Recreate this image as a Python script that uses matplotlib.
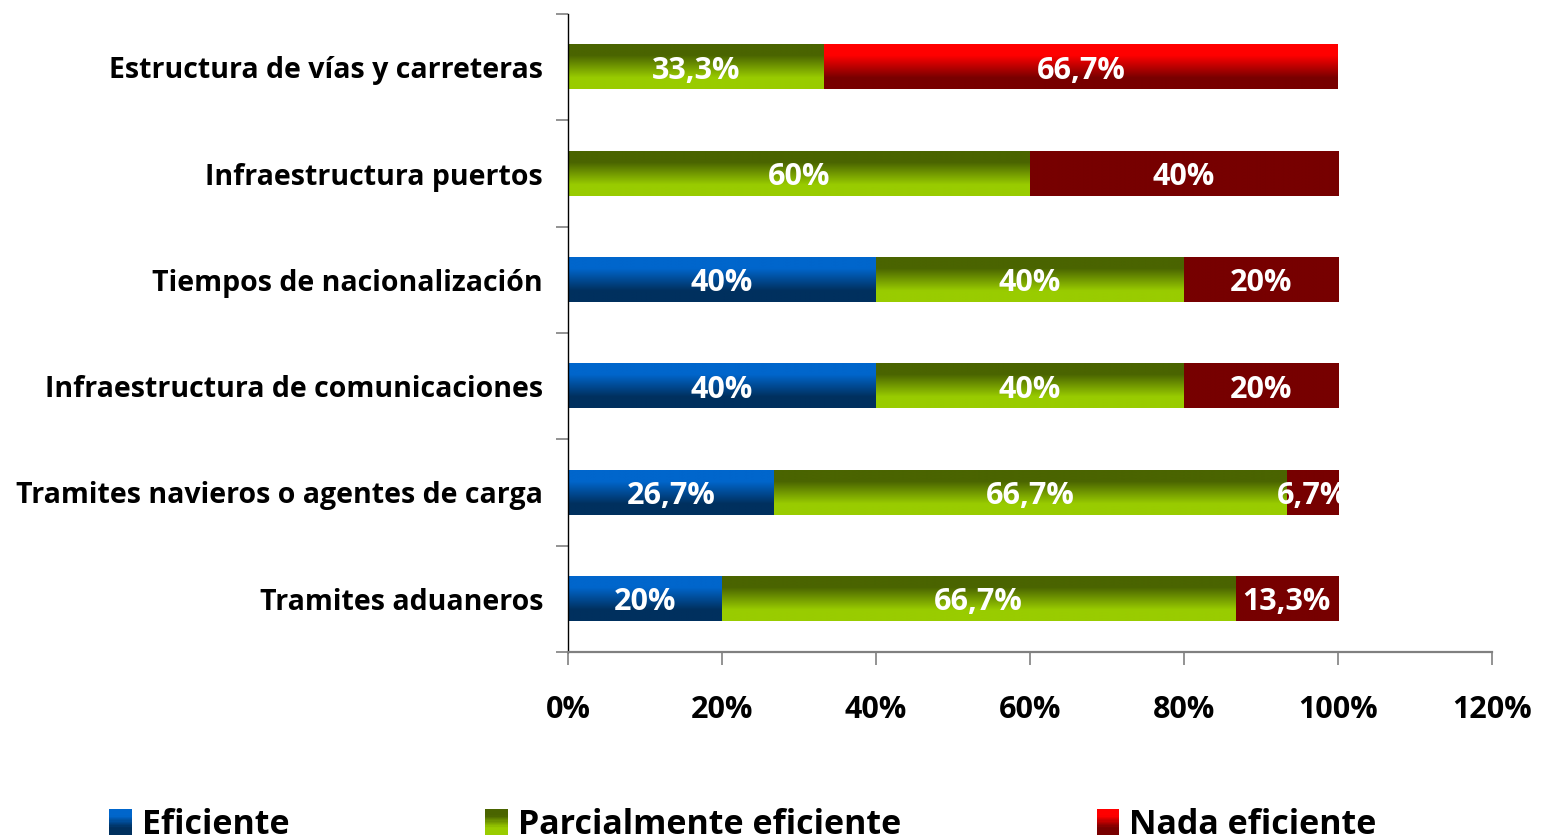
import numpy as np
import matplotlib
matplotlib.use("Agg")
import matplotlib.pyplot as plt
from matplotlib.colors import to_rgb
from matplotlib.patches import Rectangle
from matplotlib.legend_handler import HandlerBase

plt.rcParams['font.family'] = ['Open Sans', 'DejaVu Sans']

# ---- data (bottom to top) ----
categories = ["Tramites aduaneros",
              "Tramites navieros o agentes de carga",
              "Infraestructura de comunicaciones",
              "Tiempos de nacionalización",
              "Infraestructura puertos",
              "Estructura de vías y carreteras"]
eficiente = [20.0, 26.7, 40.0, 40.0, 0.0, 0.0]
parcial = [66.7, 66.7, 40.0, 40.0, 60.0, 33.3]
nada = [13.3, 6.7, 20.0, 20.0, 40.0, 66.7]
series_names = ["Eficiente", "Parcialmente eficiente", "Nada eficiente"]
x_ticks = [0, 20, 40, 60, 80, 100, 120]

# ---- styles ----
grad_blue = ("#0066CC", "#00305E")
grad_green = ("#4A6400", "#99CC00")
grad_red = ("#FF0000", "#780000")
flat_dark = ("#770000", "#770000")
nada_styles = [flat_dark, flat_dark, flat_dark, flat_dark, flat_dark, grad_red]
FW = 'bold'


def gradient(top, bottom, n=120):
    t = np.linspace(0, 1, n)
    w = np.clip((t - 0.25) / 0.5, 0, 1)[:, None]
    a = np.array(to_rgb(top))[None, :]
    b = np.array(to_rgb(bottom))[None, :]
    return (a * (1 - w) + b * w)[:, None, :]


def fmt(v):
    s = f"{v:.1f}".rstrip('0').rstrip('.')
    return s.replace('.', ',') + '%'


W, H = 1545, 839
fig = plt.figure(figsize=(W / 100, H / 100), dpi=100)
ax = fig.add_axes([568 / W, 1 - 652 / H, (1492 - 568) / W, (652 - 14) / H])

y = np.arange(len(categories))
bh = 0.42
lefts = np.zeros(len(categories))
all_series = [(eficiente, [grad_blue] * 6), (parcial, [grad_green] * 6), (nada, nada_styles)]
for vals, styles in all_series:
    bars = ax.barh(y, vals, left=lefts, height=bh, color='none', edgecolor='none')
    for bar, v, st in zip(bars, vals, styles):
        if v <= 0:
            continue
        x0, y0 = bar.get_x(), bar.get_y()
        w, h = bar.get_width(), bar.get_height()
        ax.imshow(gradient(*st), extent=[x0, x0 + w, y0, y0 + h], origin='upper',
                  aspect='auto', interpolation='bilinear', zorder=2)
        ax.text(x0 + w / 2, y0 + h / 2, fmt(v), ha='center', va='center_baseline',
                color='white', fontsize=22, fontweight=FW, zorder=3)
    lefts = lefts + np.array(vals)

ax.set_xlim(0, 120)
ax.set_ylim(-0.5, len(categories) - 0.5)
ax.set_xticks(x_ticks)
ax.set_xticklabels([f"{t}%" for t in x_ticks], fontsize=22, fontweight=FW)
ax.set_yticks(y)
ax.set_yticklabels(categories, fontsize=20.5, fontweight=FW)
ax.set_yticks(np.arange(-0.5, len(categories)), minor=True)
ax.tick_params(axis='y', which='major', length=0, pad=18)
ax.tick_params(axis='y', which='minor', length=9, color='#808080', width=1.2)
ax.tick_params(axis='x', which='major', length=9, color='#808080', width=1.2, pad=22)
for s in ['top', 'right']:
    ax.spines[s].set_visible(False)
ax.spines['left'].set_color('#000000')
ax.spines['left'].set_linewidth(1.0)
ax.spines['bottom'].set_color('#808080')
ax.spines['bottom'].set_linewidth(1.6)


class GradHandler(HandlerBase):
    def __init__(self, top, bottom):
        super().__init__()
        self.top, self.bottom = top, bottom

    def create_artists(self, legend, orig_handle, xdescent, ydescent, width, height, fontsize, trans):
        g = gradient(self.top, self.bottom, 20)[:, 0, :]
        n = len(g)
        arts = []
        for i, c in enumerate(g):
            yy = -ydescent + height * (1 - (i + 1) / n)
            arts.append(Rectangle((-xdescent, yy), width, height / n + 0.3,
                                  facecolor=c, edgecolor='none', transform=trans))
        return arts


proxies = [Rectangle((0, 0), 1, 1) for _ in series_names]
handler_map = {proxies[0]: GradHandler(*grad_blue),
               proxies[1]: GradHandler(*grad_green),
               proxies[2]: GradHandler(*grad_red)}
fig.legend(proxies, series_names, handler_map=handler_map, loc='center',
           bbox_to_anchor=(743 / W, 1 - 825 / H), ncol=3, frameon=False,
           prop={'size': 24.5, 'weight': FW}, handlelength=0.66, handleheight=0.75,
           handletextpad=0.3, columnspacing=5.75)

fig.savefig("out.png", dpi=100)
